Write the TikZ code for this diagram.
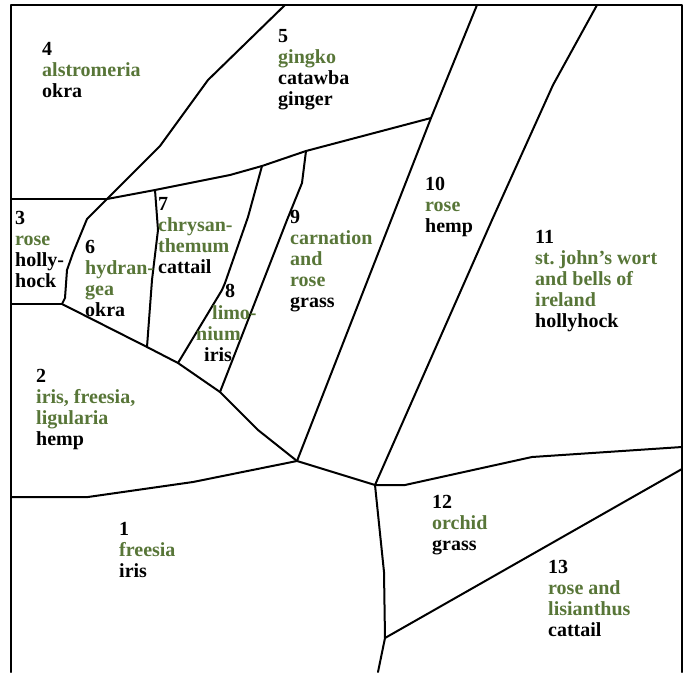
\documentclass[tikz,border=0pt]{standalone}
\usepackage{fontspec}
\setmainfont{Liberation Serif}
\usepackage{xcolor}
\usepackage{tikz}
\definecolor{flower}{RGB}{88,118,56}
\newcommand{\fl}[1]{\textcolor{flower}{#1}}

\begin{document}
\begin{tikzpicture}[
    x=1pt,y=-1pt,
    edge/.style={line width=2pt,line join=round,line cap=round},
    lbl/.style={anchor=north west,align=left,inner sep=0pt,font=\bfseries\fontsize{20}{21}\selectfont}
  ]
    \useasboundingbox (0,0) rectangle (688,672);
    % junctions
    \coordinate (j3) at (107,199);
    \coordinate (j6) at (62,304);
    \coordinate (j1) at (297,461);
    \coordinate (j2) at (375,485);
    \coordinate (j5) at (431,118);
    % frame (open at the bottom)
    \draw[edge,line width=2.4pt] (11,672) -- (11,5) -- (682,5) -- (682,672);
    % plot boundaries
    \draw[edge] (285,5) -- (208,80) -- (160,146) -- (j3) -- (87,219) -- (73,253) -- (67,270) -- (65,298) -- (j6);
    \draw[edge] (11,199) -- (j3);
    \draw[edge] (11,304) -- (j6);
    \draw[edge] (j6) -- (147,347) -- (178,363) -- (220,392) -- (258,430) -- (j1);
    \draw[edge] (j3) -- (155,190) -- (230,175) -- (262,166) -- (306,151) -- (j5);
    \draw[edge] (477,5) -- (j5) -- (j1);
    \draw[edge] (597,5) -- (553,85) -- (492,220) -- (j2);
    \draw[edge] (155,190) -- (158,230) -- (152,280) -- (147,347);
    \draw[edge] (262,166) -- (248,217) -- (225,283) -- (222,290) -- (178,363);
    \draw[edge] (306,151) -- (302,183) -- (287,220) -- (220,392);
    \draw[edge] (11,497) -- (88,497) -- (193,482) -- (j1) -- (j2);
    \draw[edge] (j2) -- (405,485) -- (532,457) -- (682,447);
    \draw[edge] (j2) -- (384,572) -- (385,638) -- (378,672);
    \draw[edge] (385,638) -- (682,469);
    % plot labels
    \node[lbl] (p1) at (119,522) {1\\\fl{freesia}\\iris};
    \node[lbl] (p2) at (36,369) {2\\\fl{iris, freesia,}\\\fl{ligularia}\\hemp};
    \node[lbl] (p3) at (15,211) {3\\\fl{rose}\\holly-\\hock};
    \node[lbl] (p4) at (42,42) {4\\\fl{alstromeria}\\okra};
    \node[lbl] (p5) at (278,29) {5\\\fl{gingko}\\catawba\\ginger};
    \node[lbl] (p6) at (85,240) {6\\\fl{hydran-}\\\fl{gea}\\okra};
    \node[lbl] (p7) at (158,197) {7\\\fl{chrysan-}\\\fl{themum}\\cattail};
    \node[lbl] (p8) at (225,284) {8};
    \node[lbl] (p8a) at (212,305) {\fl{limo-}};
    \node[lbl] (p8b) at (196,326) {\fl{nium}};
    \node[lbl] (p8c) at (204,347) {iris};
    \node[lbl] (p9) at (290,210) {9\\\fl{carnation}\\\fl{and}\\\fl{rose}\\grass};
    \node[lbl] (p10) at (425,177) {10\\\fl{rose}\\hemp};
    \node[lbl] (p11) at (535,230) {11\\\fl{st.\ john's wort}\\\fl{and bells of}\\\fl{ireland}\\hollyhock};
    \node[lbl] (p12) at (432,495) {12\\\fl{orchid}\\grass};
    \node[lbl] (p13) at (548,560) {13\\\fl{rose and}\\\fl{lisianthus}\\cattail};
  \end{tikzpicture}
\end{document}
